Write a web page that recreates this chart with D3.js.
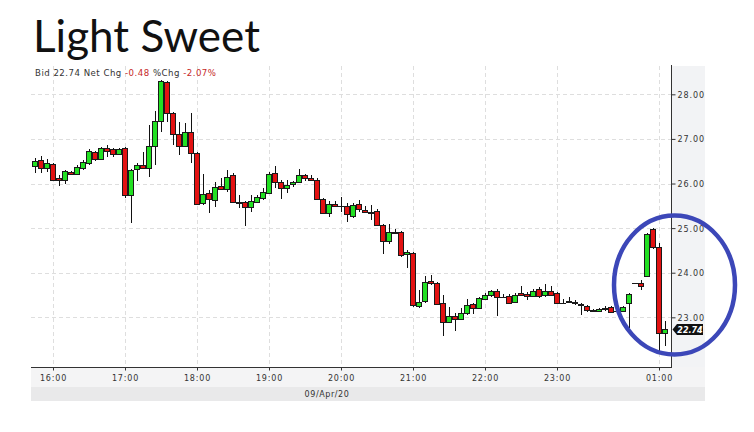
<!DOCTYPE html>
<html><head><meta charset="utf-8">
<script src="https://cdn.jsdelivr.net/npm/d3@7"></script>
<style>
html,body{margin:0;padding:0;background:#fff;}
svg{display:block;}
</style></head><body>
<svg id="chart" width="754" height="432"></svg>
<script>
// ---------- data ----------
const title = "Light Sweet";
const bid = "22.74", netChg = "-0.48", pctChg = "-2.07%";
const lastPrice = 22.74;
const dateLabel = "09/Apr/20";

const open = [26.39,26.52,26.34,26.43,26.12,26.09,26.25,26.21,26.34,26.45,
26.71,26.54,26.79,26.77,26.67,26.79,25.74,26.32,26.42,26.34,
26.84,27.40,28.28,27.57,27.10,26.85,27.16,26.68,25.56,25.78,
25.62,25.94,25.87,26.19,25.59,25.58,25.47,25.59,25.68,25.78,
26.23,26.03,25.91,25.98,26.04,26.19,26.13,26.09,25.65,25.33,
25.53,25.50,25.50,25.27,25.54,25.41,25.36,25.38,25.06,24.71,
24.91,24.91,24.41,24.44,23.25,23.37,23.81,23.78,23.31,22.89,
23.04,22.96,23.09,23.29,23.22,23.42,23.49,23.60,23.46,23.48,
23.34,23.54,23.53,23.48,23.63,23.49,23.60,23.54,23.32,23.34,
23.35,23.30,23.25,23.16,23.14,23.18,23.23,23.14,23.15,23.31,
23.76,23.78,23.93,24.99,24.57,22.64];
const high = [26.58,26.62,26.54,26.45,26.19,26.30,26.27,26.42,26.53,26.77,
26.74,26.83,26.86,26.80,26.79,26.83,26.32,26.45,26.70,27.31,
27.63,28.32,28.30,27.60,27.39,27.35,27.57,26.70,26.21,25.86,
26.04,26.12,26.30,26.23,25.74,25.61,25.74,25.74,25.89,26.25,
26.40,26.08,26.08,26.06,26.33,26.22,26.19,26.13,25.68,25.61,
25.61,25.70,25.56,25.56,25.63,25.50,25.52,25.42,25.09,25.09,
24.97,24.94,24.51,24.46,23.61,23.93,23.95,23.80,23.50,23.24,
23.09,23.20,23.40,23.33,23.46,23.55,23.61,23.63,23.52,23.52,
23.55,23.70,23.57,23.63,23.67,23.74,23.70,23.57,23.40,23.46,
23.39,23.31,23.28,23.18,23.20,23.25,23.25,23.17,23.25,23.54,
23.77,23.84,24.88,25.01,24.66,22.92];
const low = [26.23,26.23,26.25,26.06,25.95,26.00,26.19,26.18,26.30,26.42,
26.51,26.53,26.60,26.60,26.64,25.68,25.12,26.06,26.32,26.15,
26.42,27.15,27.39,26.86,26.64,26.83,26.45,25.52,25.52,25.35,
25.48,25.86,25.82,25.56,25.44,25.05,25.37,25.56,25.63,25.76,
25.91,25.65,25.78,25.93,26.03,26.06,26.06,25.63,25.33,25.26,
25.47,25.37,25.14,25.22,25.37,25.33,25.18,25.05,24.41,24.64,
24.87,24.36,24.10,23.24,23.22,23.33,23.72,23.28,22.57,22.87,
22.70,22.94,23.05,23.07,23.18,23.39,23.46,23.04,23.43,23.29,
23.31,23.49,23.39,23.45,23.43,23.46,23.49,23.29,23.30,23.31,
23.28,23.05,23.13,23.12,23.11,23.15,23.09,23.10,23.13,22.75,
23.75,23.61,23.92,24.53,22.23,22.36];
const close = [26.51,26.34,26.45,26.09,26.09,26.27,26.22,26.36,26.48,26.74,
26.54,26.79,26.74,26.67,26.77,25.74,26.30,26.42,26.34,26.84,
27.40,28.30,27.57,27.10,26.85,27.15,26.68,25.53,25.76,25.65,
25.93,25.87,26.15,25.58,25.56,25.47,25.60,25.69,25.80,26.21,
26.03,25.91,25.97,26.03,26.19,26.12,26.08,25.65,25.35,25.53,
25.50,25.49,25.31,25.52,25.42,25.36,25.35,25.06,24.71,24.91,
24.90,24.39,24.46,23.27,23.35,23.80,23.78,23.30,22.89,23.04,
22.96,23.09,23.27,23.22,23.43,23.49,23.58,23.45,23.45,23.31,
23.51,23.51,23.48,23.60,23.48,23.60,23.51,23.31,23.31,23.37,
23.31,23.28,23.16,23.14,23.18,23.22,23.11,23.15,23.23,23.52,
23.76,23.71,24.86,24.57,22.64,22.74];

const xTickIndex  = [3, 15, 27, 39, 51, 63, 75, 87, 104];
const xTickLabels = ["16:00","17:00","18:00","19:00","20:00","21:00","22:00","23:00","01:00"];
const yTicks = [23, 24, 25, 26, 27, 28];

// ---------- layout ----------
const P = {left: 31, right: 671, top: 66, bottom: 367, panelRight: 705, bandTop: 387, bandBottom: 401};
const svg = d3.select("#chart");
const x = d3.scaleLinear().domain([0, 105]).range([34.7, 664.7]);
const y = d3.scaleLinear().domain([21.886, 28.635]).range([P.bottom, P.top]);
const AX = "#333";
const GREEN = "#22e022", RED = "#e31212", OUT = "#1a1a1a";

// backgrounds
svg.append("rect").attr("x", P.right).attr("y", P.top).attr("width", P.panelRight - P.right)
  .attr("height", P.bandTop - P.top).attr("fill", "#f2f3f5");
svg.append("rect").attr("x", P.left).attr("y", P.bottom).attr("width", P.panelRight - P.left)
  .attr("height", P.bandTop - P.bottom).attr("fill", "#f4f4f5");
svg.append("rect").attr("x", P.left).attr("y", P.bandTop).attr("width", P.panelRight - P.left)
  .attr("height", P.bandBottom - P.bandTop).attr("fill", "#e9e9ea");

// grid
const grid = svg.append("g").attr("shape-rendering", "crispEdges")
  .attr("stroke", "#dedede").attr("stroke-dasharray", "4,3");
grid.selectAll("line.h").data(yTicks).join("line")
  .attr("x1", P.left).attr("x2", P.right)
  .attr("y1", d => Math.round(y(d)) + 0.5).attr("y2", d => Math.round(y(d)) + 0.5);
grid.selectAll("line.v").data(xTickIndex).join("line")
  .attr("x1", d => Math.round(x(d)) + 0.5).attr("x2", d => Math.round(x(d)) + 0.5)
  .attr("y1", P.top).attr("y2", P.bottom);

// axes
const yAxis = d3.axisRight(y).tickValues(yTicks).tickSize(4).tickPadding(2).tickFormat(d3.format(".2f"));
const gy = svg.append("g").attr("transform", `translate(${P.right + 0.5},0)`).call(yAxis);
gy.select(".domain").remove();
gy.append("line").attr("x1", 0).attr("x2", 0).attr("y1", P.top - 1).attr("y2", P.bottom + 0.5).attr("stroke", AX);
gy.selectAll(".tick line").attr("stroke", AX);
gy.selectAll(".tick text").attr("fill", AX).attr("font-family", "DejaVu Sans").attr("font-size", 8)
  .style("letter-spacing", "0.9px").attr("dy", "0.36em");

const xAxis = d3.axisBottom(x).tickValues(xTickIndex).tickSize(3).tickPadding(5)
  .tickFormat((d, i) => xTickLabels[i]);
const gx = svg.append("g").attr("transform", `translate(0,${P.bottom + 0.5})`).call(xAxis);
gx.select(".domain").remove();
gx.append("line").attr("x1", P.left).attr("x2", P.right + 1).attr("y1", 0).attr("y2", 0).attr("stroke", AX);
gx.selectAll(".tick").attr("transform", d => `translate(${Math.round(x(d)) + 0.5},0)`);
gx.selectAll(".tick line").attr("stroke", AX);
gx.selectAll(".tick text").attr("fill", AX).attr("font-family", "DejaVu Sans").attr("font-size", 8)
  .style("letter-spacing", "0.8px");

svg.append("text").attr("x", 327).attr("y", 397).attr("text-anchor", "middle")
  .attr("font-family", "DejaVu Sans").attr("font-size", 8).style("letter-spacing", "0.6px")
  .attr("fill", AX).text(dateLabel);

// candles
const idx = d3.range(open.length);
const cg = svg.append("g").attr("shape-rendering", "crispEdges");
cg.selectAll("line.wick").data(idx).join("line")
  .attr("x1", i => Math.round(x(i)) + 0.5).attr("x2", i => Math.round(x(i)) + 0.5)
  .attr("y1", i => y(high[i])).attr("y2", i => y(low[i]))
  .attr("stroke", "#111");
idx.forEach(i => {
  const o = open[i], c = close[i];
  const cx = Math.round(x(i));
  const y1 = Math.round(y(Math.max(o, c))), y2 = Math.round(y(Math.min(o, c)));
  if (y2 - y1 < 1) {
    cg.append("line").attr("x1", cx - 3).attr("x2", cx + 3)
      .attr("y1", y1 + 0.5).attr("y2", y1 + 0.5).attr("stroke", OUT);
  } else {
    cg.append("rect").attr("x", cx - 2.5).attr("y", y1 + 0.5).attr("width", 5).attr("height", y2 - y1)
      .attr("fill", c >= o ? GREEN : RED).attr("stroke", OUT).attr("stroke-width", 1);
  }
});

// price tag
const ty = Math.round(y(lastPrice)) + 0.5;
svg.append("path").attr("d", `M${P.right + 1.5},${ty} L${P.right + 6},${ty - 5.5} L${P.right + 32},${ty - 5.5} L${P.right + 32},${ty + 5.5} L${P.right + 6},${ty + 5.5} Z`)
  .attr("fill", "#111");
svg.append("text").attr("x", P.right + 19).attr("y", ty + 3).attr("text-anchor", "middle")
  .attr("font-family", "DejaVu Sans").attr("font-weight", "bold").attr("font-style", "italic")
  .attr("font-size", 8).attr("fill", "#fff").text(d3.format(".2f")(lastPrice));

// header
const hdr = svg.append("text").attr("x", 35).attr("y", 76).attr("font-family", "DejaVu Sans")
  .attr("font-size", 8.6).attr("fill", "#333");
hdr.append("tspan").text(`Bid ${bid} Net Chg `);
hdr.append("tspan").attr("fill", "#c62828").text(netChg);
hdr.append("tspan").text(" %Chg ");
hdr.append("tspan").attr("fill", "#c62828").text(pctChg);
{
  const w = hdr.node().getComputedTextLength();
  const n = `Bid ${bid} Net Chg ${netChg} %Chg ${pctChg}`.length;
  hdr.style("letter-spacing", ((181 - w) / (n - 1)) + "px");
}

// title
const tt = svg.append("text").attr("x", 33).attr("y", 51.5).attr("font-family", "Lato")
  .attr("font-size", 44).attr("fill", "#111").text(title);
{
  const w = tt.node().getComputedTextLength();
  tt.style("letter-spacing", ((227 - w) / (title.length - 1)) + "px");
}

// annotation ellipse
svg.append("ellipse").attr("cx", 674.5).attr("cy", 285).attr("rx", 60.5).attr("ry", 69.5)
  .attr("fill", "none").attr("stroke", "#3c47b8").attr("stroke-width", 4.5);
</script>
</body></html>
